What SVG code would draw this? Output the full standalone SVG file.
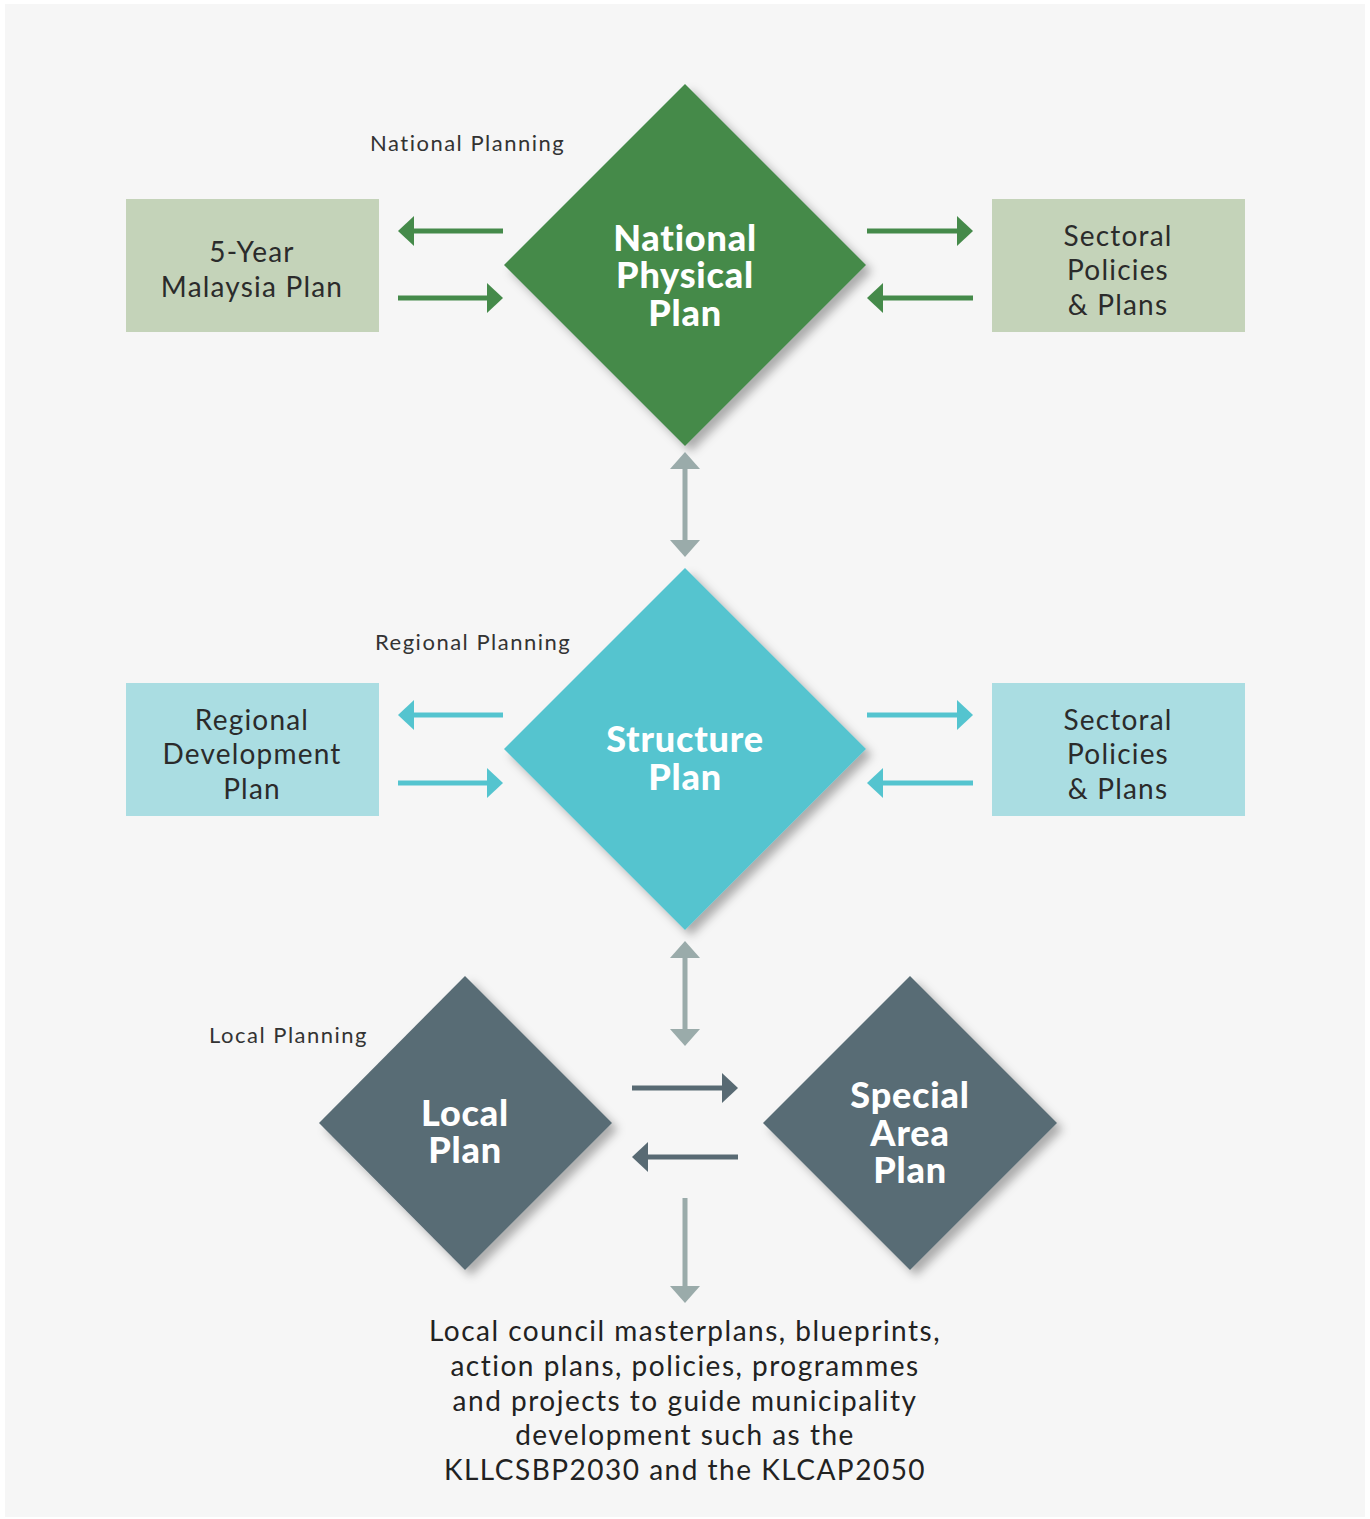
<svg xmlns="http://www.w3.org/2000/svg" width="1370" height="1519" viewBox="0 0 1370 1519">
<defs>
<style>
.lbl{font-family:Lato,"Open Sans","Liberation Sans",sans-serif;font-size:22px;letter-spacing:1.5px;fill:#333}
.box{font-family:Lato,"Open Sans","Liberation Sans",sans-serif;font-size:28px;letter-spacing:1.2px;fill:#2b2b2b;text-anchor:middle}
.dt{font-family:Lato,"Open Sans","Liberation Sans",sans-serif;font-size:36px;font-weight:900;letter-spacing:0.8px;fill:#fff;text-anchor:middle}
.foot{font-family:Lato,"Open Sans","Liberation Sans",sans-serif;font-size:28px;letter-spacing:1.5px;fill:#222;text-anchor:middle}
.g{stroke:#458a4a;stroke-width:5;fill:none}
.t{stroke:#54c4cf;stroke-width:5;fill:none}
.s{stroke:#586a73;stroke-width:5;fill:none}
.y{stroke:#9aabaa;stroke-width:5;fill:none}
</style>
<filter id="sh" x="-20%" y="-20%" width="150%" height="150%">
<feDropShadow dx="6" dy="6" stdDeviation="5" flood-color="#000" flood-opacity="0.3"/>
</filter>
</defs>
<rect width="1370" height="1519" fill="#ffffff"/>
<rect x="5" y="4" width="1360" height="1513" fill="#f6f6f6"/>

<g id="labels">
<text class="lbl" x="370" y="151">National Planning</text>
<text class="lbl" x="375" y="650">Regional Planning</text>
<text class="lbl" x="209" y="1043">Local Planning</text>
</g>

<g id="five-year">
<rect x="126" y="199" width="253" height="133" fill="#c4d3b9"/>
<text class="box" x="252" y="262">5-Year</text>
<text class="box" x="252" y="297">Malaysia Plan</text>
</g>
<g id="sectoral-1">
<rect x="992" y="199" width="253" height="133" fill="#c4d3b9"/>
<text class="box" x="1118" y="246">Sectoral</text>
<text class="box" x="1118" y="280">Policies</text>
<text class="box" x="1118" y="315">&amp; Plans</text>
</g>
<g id="national-physical-plan">
<polygon points="685,84 866,265 685,446 504,265" fill="#458a4a" filter="url(#sh)"/>
<text class="dt" x="685" y="251">National</text>
<text class="dt" x="685" y="288">Physical</text>
<text class="dt" x="685" y="326">Plan</text>
</g>

<g id="regional-dev">
<rect x="126" y="683" width="253" height="133" fill="#aadde2"/>
<text class="box" x="252" y="730">Regional</text>
<text class="box" x="252" y="764">Development</text>
<text class="box" x="252" y="799">Plan</text>
</g>
<g id="sectoral-2">
<rect x="992" y="683" width="253" height="133" fill="#aadde2"/>
<text class="box" x="1118" y="730">Sectoral</text>
<text class="box" x="1118" y="764">Policies</text>
<text class="box" x="1118" y="799">&amp; Plans</text>
</g>
<g id="structure-plan">
<polygon points="685,568 866,749 685,930 504,749" fill="#54c4cf" filter="url(#sh)"/>
<text class="dt" x="685" y="752">Structure</text>
<text class="dt" x="685" y="790">Plan</text>
</g>

<g id="local-plan">
<polygon points="465,976 612,1123 465,1270 319,1123" fill="#596c75" filter="url(#sh)"/>
<text class="dt" x="465" y="1126">Local</text>
<text class="dt" x="465" y="1163">Plan</text>
</g>
<g id="special-area-plan">
<polygon points="910,976 1057,1123 910,1270 763,1123" fill="#596c75" filter="url(#sh)"/>
<text class="dt" x="910" y="1108">Special</text>
<text class="dt" x="910" y="1146">Area</text>
<text class="dt" x="910" y="1183">Plan</text>
</g>

<g id="footer">
<text class="foot" x="685" y="1341">Local council masterplans, blueprints,</text>
<text class="foot" x="685" y="1376">action plans, policies, programmes</text>
<text class="foot" x="685" y="1411">and projects to guide municipality</text>
<text class="foot" x="685" y="1445">development such as the</text>
<text class="foot" x="685" y="1480">KLLCSBP2030 and the KLCAP2050</text>
</g>

<g id="connectors">
<line class="g" x1="503" y1="231" x2="412" y2="231"/><polygon points="398,231 414,216 414,246" fill="#458a4a"/>
<line class="g" x1="398" y1="298" x2="489" y2="298"/><polygon points="503,298 487,283 487,313" fill="#458a4a"/>
<line class="g" x1="867" y1="231" x2="959" y2="231"/><polygon points="973,231 957,216 957,246" fill="#458a4a"/>
<line class="g" x1="973" y1="298" x2="881" y2="298"/><polygon points="867,298 883,283 883,313" fill="#458a4a"/>
<line class="t" x1="503" y1="715" x2="412" y2="715"/><polygon points="398,715 414,700 414,730" fill="#54c4cf"/>
<line class="t" x1="398" y1="783" x2="489" y2="783"/><polygon points="503,783 487,768 487,798" fill="#54c4cf"/>
<line class="t" x1="867" y1="715" x2="959" y2="715"/><polygon points="973,715 957,700 957,730" fill="#54c4cf"/>
<line class="t" x1="973" y1="783" x2="881" y2="783"/><polygon points="867,783 883,768 883,798" fill="#54c4cf"/>
<line class="s" x1="632" y1="1088" x2="724" y2="1088"/><polygon points="738,1088 722,1073 722,1103" fill="#586a73"/>
<line class="s" x1="738" y1="1157" x2="646" y2="1157"/><polygon points="632,1157 648,1142 648,1172" fill="#586a73"/>
<line class="y" x1="685" y1="466" x2="685" y2="543"/>
<polygon points="685,452 670,469 700,469" fill="#9aabaa"/><polygon points="685,557 670,540 700,540" fill="#9aabaa"/>
<line class="y" x1="685" y1="955" x2="685" y2="1032"/>
<polygon points="685,941 670,958 700,958" fill="#9aabaa"/><polygon points="685,1046 670,1029 700,1029" fill="#9aabaa"/>
<line class="y" x1="685" y1="1198" x2="685" y2="1289"/>
<polygon points="685,1303 670,1286 700,1286" fill="#9aabaa"/>
</g>
</svg>
